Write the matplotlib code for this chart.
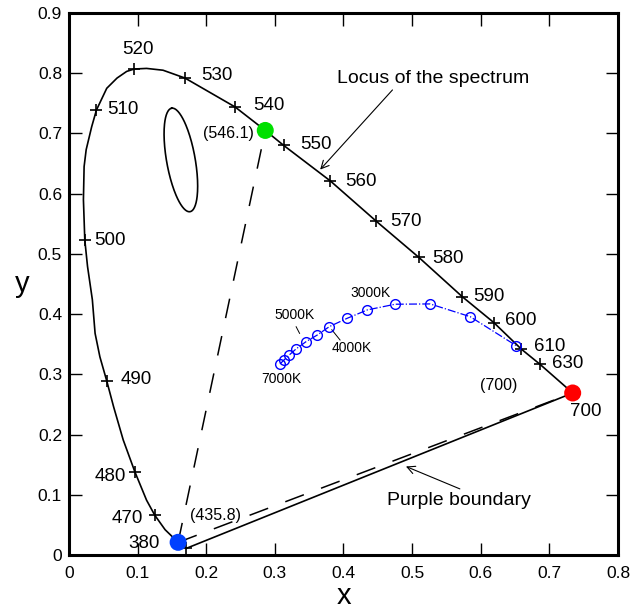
import numpy as np
import matplotlib
matplotlib.use("Agg")
import matplotlib.pyplot as plt

plt.rcParams['font.family'] = ['Liberation Sans', 'DejaVu Sans']

# ---------------- DATA ---------------- #

# spectral locus traced from 380 nm round to 700 nm
locus_x = [0.171, 0.159, 0.140, 0.125, 0.113, 0.096, 0.079, 0.065, 0.055, 0.045,
           0.038, 0.034, 0.027, 0.023, 0.021, 0.022, 0.025, 0.033, 0.040, 0.055,
           0.070, 0.084, 0.095, 0.113, 0.137, 0.169, 0.242, 0.286, 0.313, 0.381,
           0.448, 0.510, 0.573, 0.619, 0.659, 0.686, 0.734]
locus_y = [0.011, 0.021, 0.042, 0.066, 0.091, 0.138, 0.191, 0.246, 0.289, 0.329,
           0.368, 0.424, 0.479, 0.523, 0.590, 0.645, 0.673, 0.711, 0.739, 0.775,
           0.792, 0.803, 0.807, 0.808, 0.805, 0.792, 0.744, 0.705, 0.680, 0.621,
           0.554, 0.494, 0.429, 0.386, 0.342, 0.317, 0.269]

# wavelength crosses
wl_labels = ['380', '470', '480', '490', '500', '510', '520', '530', '540',
             '550', '560', '570', '580', '590', '600', '610', '630']
wl_x = [0.171, 0.125, 0.096, 0.055, 0.023, 0.040, 0.095, 0.169, 0.242,
        0.313, 0.381, 0.448, 0.510, 0.573, 0.619, 0.659, 0.686]
wl_y = [0.011, 0.066, 0.138, 0.289, 0.523, 0.739, 0.807, 0.792, 0.744,
        0.680, 0.621, 0.554, 0.494, 0.429, 0.386, 0.342, 0.317]

# label placement (x, y, ha)
wl_text = [(0.132, 0.019, 'right'), (0.108, 0.061, 'right'), (0.083, 0.130, 'right'),
           (0.075, 0.291, 'left'), (0.036, 0.523, 'left'), (0.055, 0.739, 'left'),
           (0.101, 0.840, 'center'), (0.193, 0.797, 'left'), (0.269, 0.746, 'left'),
           (0.337, 0.681, 'left'), (0.402, 0.620, 'left'), (0.468, 0.554, 'left'),
           (0.529, 0.493, 'left'), (0.589, 0.429, 'left'), (0.636, 0.389, 'left'),
           (0.677, 0.346, 'left'), (0.704, 0.318, 'left')]

# primaries (435.8, 546.1, 700)
prim_x = [0.159, 0.286, 0.734]
prim_y = [0.021, 0.705, 0.269]
prim_colors = ['#0040ff', '#00e000', '#ff0000']

# purple boundary (solid)
purple_x = [0.171, 0.734]
purple_y = [0.011, 0.269]

# blackbody locus
bb_x = [0.3076, 0.3134, 0.3211, 0.3309, 0.3455, 0.3620, 0.3795, 0.4057,
        0.4349, 0.4752, 0.5262, 0.5845, 0.6516]
bb_y = [0.3173, 0.3239, 0.3322, 0.3422, 0.3543, 0.3654, 0.3793, 0.3932,
        0.4070, 0.4164, 0.4169, 0.3958, 0.3477]

# MacAdam style ellipse: centre, half major axis, half minor axis
ell_center = (0.163, 0.656)
ell_major = (-0.0134, 0.0859)
ell_minor = (0.0205, 0.0042)

# ---------------- PLOT ---------------- #

fig = plt.figure(figsize=(6.32, 6.11), dpi=100)
ax = fig.add_axes([0.1092, 0.0917, 0.8686, 0.887])

ax.plot(locus_x, locus_y, color='black', lw=1.2, zorder=3)
ax.plot(purple_x, purple_y, color='black', lw=1.2, zorder=3)

# dashed lines from the blue primary
ax.plot([prim_x[0], prim_x[1]], [prim_y[0], prim_y[1]], color='black', lw=1.1,
        linestyle=(0, (13, 12)), zorder=2)
ax.plot([prim_x[0], prim_x[2]], [prim_y[0], prim_y[2]], color='black', lw=1.1,
        linestyle=(0, (13, 12)), zorder=2)

ax.plot(wl_x, wl_y, linestyle='none', marker='+', color='black', ms=9, mew=1.2, zorder=4)
for lab, (tx, ty, ha) in zip(wl_labels, wl_text):
    ax.text(tx, ty, lab, fontsize=13.5, ha=ha, va='center')
ax.text(0.730, 0.238, '700', fontsize=13.5, ha='left', va='center')

ax.scatter(prim_x, prim_y, s=150, c=prim_colors, zorder=5, linewidths=0)
ax.text(0.176, 0.066, '(435.8)', fontsize=11.5, ha='left', va='center')
ax.text(0.269, 0.700, '(546.1)', fontsize=11.5, ha='right', va='center')
ax.text(0.599, 0.282, '(700)', fontsize=11.5, ha='left', va='center')

# ellipse
t = np.linspace(0, 2 * np.pi, 200)
ex = ell_center[0] + np.cos(t) * ell_major[0] + np.sin(t) * ell_minor[0]
ey = ell_center[1] + np.cos(t) * ell_major[1] + np.sin(t) * ell_minor[1]
ax.plot(ex, ey, color='black', lw=1.2)

# blackbody locus
ax.plot(bb_x, bb_y, color='#0000ff', lw=0.9, linestyle='-.', marker='o',
        mfc='none', mec='#0000ff', ms=7, mew=1.0, zorder=4)
ax.text(0.439, 0.435, '3000K', fontsize=10, ha='center', va='center')
ax.text(0.329, 0.399, '5000K', fontsize=10, ha='center', va='center')
ax.text(0.412, 0.343, '4000K', fontsize=10, ha='center', va='center')
ax.text(0.310, 0.292, '7000K', fontsize=10, ha='center', va='center')
ax.plot([0.331, 0.336], [0.379, 0.368], color='black', lw=0.7)
ax.plot([0.383, 0.395], [0.374, 0.357], color='black', lw=0.7)

# annotations
ax.annotate('Locus of the spectrum', xy=(0.366, 0.640), xytext=(0.391, 0.791),
            fontsize=14, ha='left', va='center',
            arrowprops=dict(arrowstyle='->', lw=0.8, color='black',
                            shrinkA=0, shrinkB=0, relpos=(0.3, 0)))
ax.annotate('Purple boundary', xy=(0.491, 0.147), xytext=(0.464, 0.091),
            fontsize=14, ha='left', va='center',
            arrowprops=dict(arrowstyle='->', lw=0.8, color='black',
                            shrinkA=0, shrinkB=0, relpos=(0.55, 1)))

# ---------------- AXES ---------------- #

ax.set_xlim(0, 0.8)
ax.set_ylim(0, 0.9)
ax.set_xticks(np.arange(0, 0.81, 0.1))
ax.set_yticks(np.arange(0, 0.91, 0.1))
ax.set_xticklabels(['0', '0.1', '0.2', '0.3', '0.4', '0.5', '0.6', '0.7', '0.8'])
ax.set_yticklabels(['0', '0.1', '0.2', '0.3', '0.4', '0.5', '0.6', '0.7', '0.8', '0.9'])
ax.tick_params(direction='in', length=9, width=1.0, top=True, right=True,
               labelsize=12.5, pad=5)
ax.tick_params(axis='x', pad=8)
for sp in ax.spines.values():
    sp.set_linewidth(2.2)

ax.set_xlabel('x', fontsize=21, labelpad=1)
ax.set_ylabel('y', fontsize=21, rotation=0, labelpad=11, va='center')

fig.savefig('out.png', dpi=100)
